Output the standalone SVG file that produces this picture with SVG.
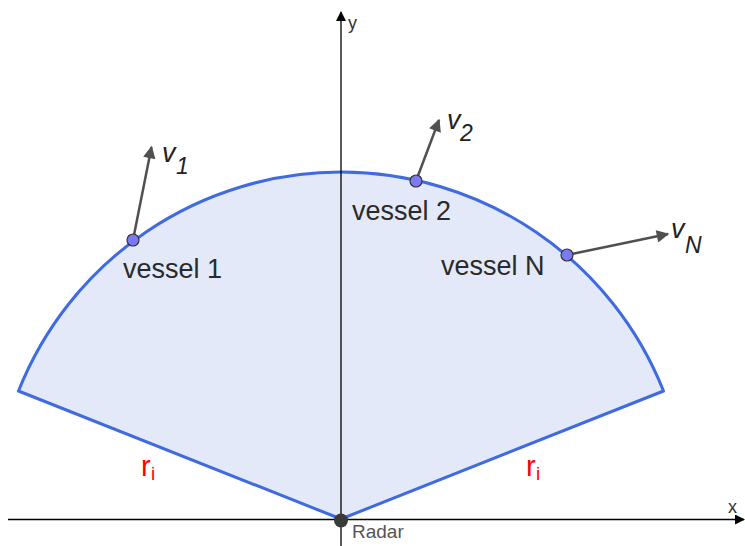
<svg xmlns="http://www.w3.org/2000/svg" width="745" height="546" viewBox="0 0 745 546">
<defs>
<style>
.axis{stroke:#000;stroke-width:1.3;fill:none}
.sector{fill:#e3e9f8;stroke:#3f6ae0;stroke-width:3;stroke-linejoin:round}
.vec{stroke:#505050;stroke-width:2.5;fill:none}
.pt{fill:#7a7af5;stroke:#333;stroke-width:1.2}
.lbl{font-family:"Liberation Sans",Arial,sans-serif;font-size:27px;fill:#2a2a2a}
.vlbl{font-family:"Liberation Sans",Arial,sans-serif;font-size:27px;font-style:italic;fill:#222}
.sub{font-family:"Liberation Sans",Arial,sans-serif;font-size:23px;font-style:italic;fill:#222}
.ri{font-family:"Liberation Sans",Arial,sans-serif;font-size:29px;fill:#f00}
.ris{font-family:"Liberation Sans",Arial,sans-serif;font-size:19px;fill:#f00}
.ax{font-family:"Liberation Sans",Arial,sans-serif;font-size:18px;fill:#333}
</style>
<marker id="ah" viewBox="0 0 10 10" refX="9" refY="5" markerWidth="6" markerHeight="5" orient="auto" markerUnits="strokeWidth">
<path d="M0,0 L10,5 L0,10 z" fill="#505050"/>
</marker>
<marker id="axh" viewBox="0 0 10 10" refX="9" refY="5" markerWidth="12" markerHeight="10" orient="auto" markerUnits="userSpaceOnUse">
<path d="M0,0 L10,5 L0,10 z" fill="#000"/>
</marker>
</defs>
<rect width="745" height="546" fill="#fff"/>
<g id="sector">
<path class="sector" d="M341,519 L18.5,391 A347,347 0 0 1 663.5,391 Z"/>
</g>
<g id="axes">
<line class="axis" x1="8" y1="519.5" x2="744" y2="519.5" marker-end="url(#axh)"/>
<line class="axis" x1="341" y1="546" x2="341" y2="12" marker-end="url(#axh)"/>
<text class="ax" x="728" y="513">x</text>
<text class="ax" x="348" y="29">y</text>
</g>
<g id="connectors">
<line class="vec" x1="133" y1="240" x2="151.5" y2="147" marker-end="url(#ah)"/>
<line class="vec" x1="416" y1="181" x2="439" y2="120" marker-end="url(#ah)"/>
<line class="vec" x1="567" y1="255" x2="668" y2="234" marker-end="url(#ah)"/>
</g>
<g id="vessel1">
<circle class="pt" cx="133" cy="240" r="6"/>
<text class="lbl" x="123" y="278">vessel 1</text>
<text class="vlbl" x="162" y="162">v</text>
<text class="sub" x="176" y="174">1</text>
</g>
<g id="vessel2">
<circle class="pt" cx="416" cy="181" r="6"/>
<text class="lbl" x="352" y="220">vessel 2</text>
<text class="vlbl" x="447" y="129">v</text>
<text class="sub" x="460" y="141">2</text>
</g>
<g id="vesselN">
<circle class="pt" cx="567" cy="255" r="6"/>
<text class="lbl" x="441" y="275">vessel N</text>
<text class="vlbl" x="671" y="238">v</text>
<text class="sub" x="685" y="253">N</text>
</g>
<g id="radar">
<circle cx="341" cy="520.5" r="7" fill="#3a3a3a"/>
<text x="352" y="538" style="font-family:'Liberation Sans',Arial,sans-serif;font-size:19px;fill:#555">Radar</text>
</g>
<g id="ri-labels">
<text class="ri" x="141" y="476">r</text>
<text class="ris" x="151" y="480">i</text>
<text class="ri" x="526" y="476">r</text>
<text class="ris" x="536" y="480">i</text>
</g>
</svg>
